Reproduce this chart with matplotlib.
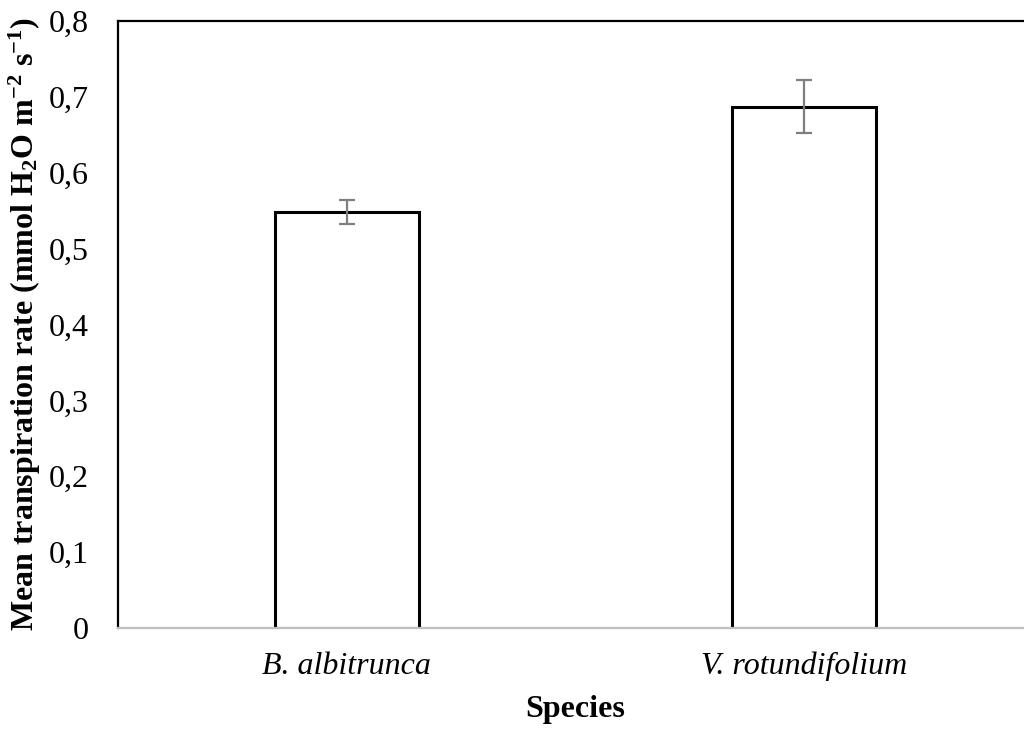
import matplotlib
matplotlib.use("Agg")
import matplotlib.pyplot as plt
from matplotlib.ticker import FuncFormatter

species = ["B. albitrunca", "V. rotundifolium"]
means = [0.548, 0.687]
errors = [0.016, 0.035]
yticks = [0, 0.1, 0.2, 0.3, 0.4, 0.5, 0.6, 0.7, 0.8]

plt.rcParams['font.family'] = ['Liberation Serif', 'DejaVu Serif']
plt.rcParams['mathtext.fontset'] = 'custom'
plt.rcParams['mathtext.rm'] = 'Liberation Serif'
plt.rcParams['mathtext.bf'] = 'Liberation Serif:bold'
plt.rcParams['mathtext.it'] = 'Liberation Serif:italic'

fig = plt.figure(figsize=(10.24, 7.29), dpi=100)
ax = fig.add_axes([118/1024, 1 - 628/729, 1032.75/1024 - 118/1024, (628 - 21)/729])

x = list(range(len(species)))
ax.bar(x, means, width=0.315, color='white', edgecolor='black', linewidth=2.2, zorder=2)
ax.errorbar(x, means, yerr=errors, fmt='none', ecolor='#7f7f7f', elinewidth=1.6,
            capsize=6, capthick=1.6, zorder=3)

ax.set_xlim(-0.5, 1.5)
ax.set_ylim(0, 0.8)
ax.set_yticks(yticks)
ax.yaxis.set_major_formatter(FuncFormatter(lambda v, p: "0" if v == 0 else f"{v:.1f}".replace('.', ',')))
ax.set_xticks(x)
ax.set_xticklabels(species, fontstyle='italic', fontsize=23)
ax.tick_params(axis='y', length=0, labelsize=23, pad=21)
ax.tick_params(axis='x', length=0, pad=17)

for s in ['left', 'top']:
    ax.spines[s].set_color('black')
    ax.spines[s].set_linewidth(1.6)
ax.spines['right'].set_visible(False)
ax.spines['bottom'].set_color('#bfbfbf')
ax.spines['bottom'].set_linewidth(1.6)

ax.set_xlabel("Species", fontsize=23, fontweight='bold', labelpad=10)
ax.set_ylabel(r"Mean transpiration rate (mmol H$_\mathbf{2}$O m$^\mathbf{-2}$ s$^\mathbf{-1}$)",
              fontsize=23, fontweight='bold', labelpad=4)

fig.savefig("out.png", dpi=100)
